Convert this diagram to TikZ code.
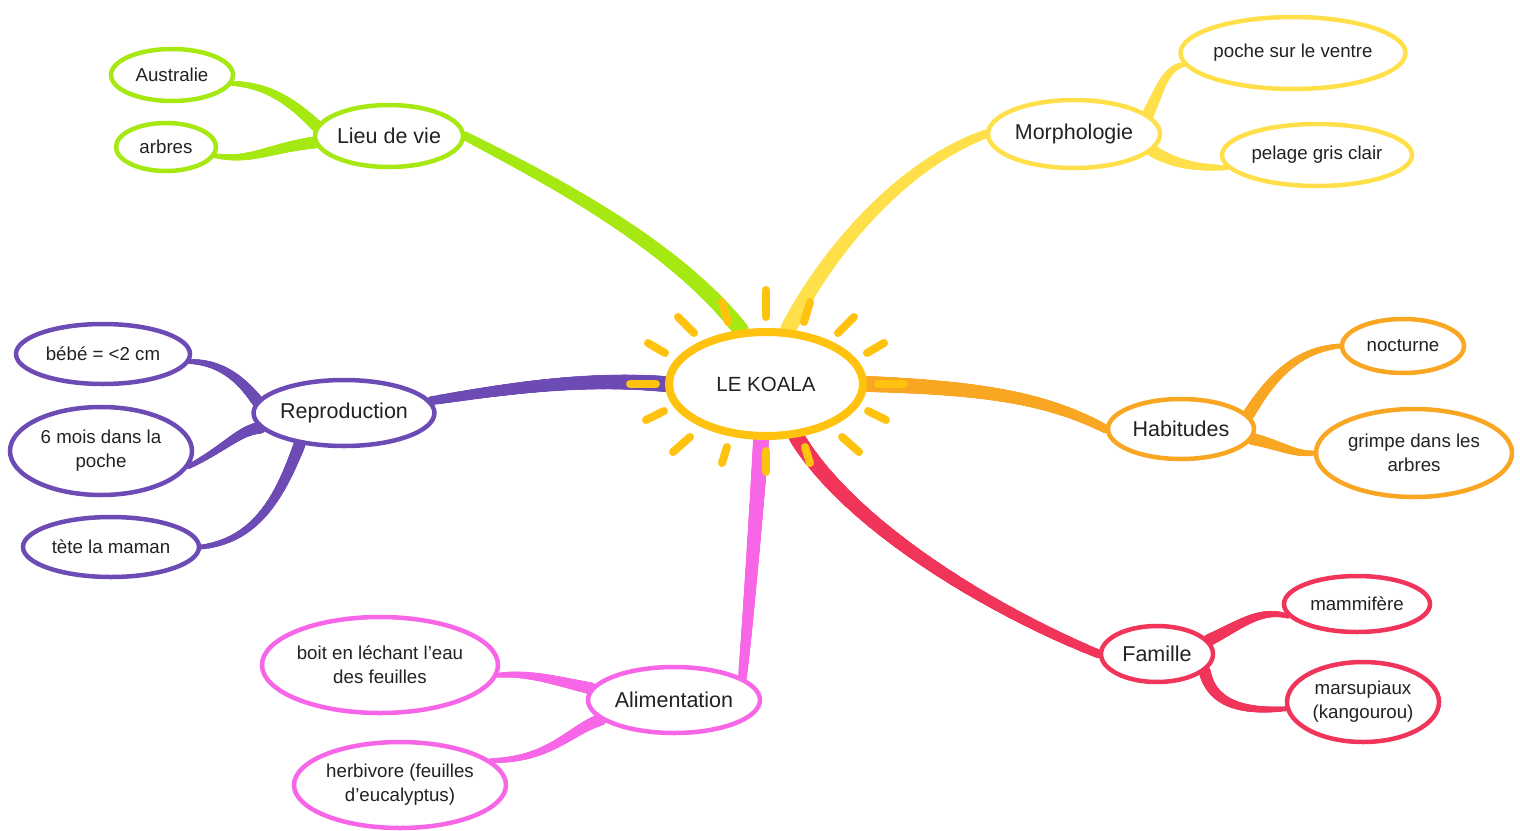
\documentclass[tikz,border=0pt]{standalone}
\usepackage{fontspec}
\setmainfont{Liberation Sans}
\usetikzlibrary{shapes.geometric,calc}
\definecolor{cgreen}{HTML}{A6E812}
\definecolor{cyellow}{HTML}{FFE04B}
\definecolor{corange}{HTML}{F9A623}
\definecolor{cred}{HTML}{F0345A}
\definecolor{cpink}{HTML}{F766E6}
\definecolor{cpurple}{HTML}{6D4BB5}
\definecolor{cgold}{HTML}{FFC20E}
\definecolor{ctext}{HTML}{222222}
\pgfdeclarelayer{bg}
\pgfsetlayers{bg,main}
\tikzset{
  bubble/.style={ellipse, draw, fill=white, inner sep=0pt, align=center, text=ctext},
  topic/.style={bubble, line width=4.5pt, font=\fontsize{21.5}{25}\selectfont},
  leaf/.style={bubble, line width=4.5pt, font=\fontsize{18.7}{24}\selectfont},
  hub/.style={bubble, draw=cgold, line width=8pt, font=\fontsize{20.5}{24}\selectfont},
  ray/.style={draw=cgold, line width=8pt, line cap=round}
}
% tapered cubic curve: #1 colour, #2 thick end, #3 #4 controls, #5 thin end, #6 thick width, #7 thin width
\newcommand\taperedbranch[7]{%
  \path (#2) coordinate (tb0) (#3) coordinate (tb1) (#4) coordinate (tb2) (#5) coordinate (tb3);
  \foreach \k in {0,...,23} {
    \pgfmathsetmacro\s{1-\k/24}
    \pgfmathsetmacro\w{#6-(#6-#7)*\s}
    \coordinate (tbA) at ($(tb0)!\s!(tb1)$);
    \coordinate (tbB) at ($(tb1)!\s!(tb2)$);
    \coordinate (tbC) at ($(tb2)!\s!(tb3)$);
    \coordinate (tbD) at ($(tbA)!\s!(tbB)$);
    \coordinate (tbE) at ($(tbB)!\s!(tbC)$);
    \coordinate (tbF) at ($(tbD)!\s!(tbE)$);
    \draw[draw=#1, line width=\w pt, line cap=round] (tb0) .. controls (tbA) and (tbD) .. (tbF);
  }
}
\begin{document}
\begin{tikzpicture}[x=1pt,y=-1pt]
\useasboundingbox (0,0) rectangle (1520,830);
% center
\node[hub, minimum width=194pt, minimum height=104pt] (koala) at (766,384) {LE KOALA};
% topics
\node[topic, draw=cgreen, minimum width=148pt, minimum height=62pt] (lieu) at (389,136) {Lieu de vie};
\node[topic, draw=cyellow, minimum width=172pt, minimum height=68pt] (morph) at (1074,134) {Morphologie};
\node[topic, draw=corange, minimum width=146pt, minimum height=60pt] (habit) at (1181,429) {Habitudes};
\node[topic, draw=cred, minimum width=112pt, minimum height=56pt] (famille) at (1157,654) {Famille};
\node[topic, draw=cpink, minimum width=172pt, minimum height=66pt] (alim) at (674,700) {Alimentation};
\node[topic, draw=cpurple, minimum width=180pt, minimum height=66pt] (repro) at (344,413) {Reproduction};
% leaves
\node[leaf, draw=cgreen, minimum width=122pt, minimum height=52pt] (austr) at (172,75) {Australie};
\node[leaf, draw=cgreen, minimum width=100pt, minimum height=48pt] (arbres) at (166,147) {arbres};
\node[leaf, draw=cyellow, minimum width=224pt, minimum height=72pt] (poche) at (1293,53) {poche sur le ventre};
\node[leaf, draw=cyellow, minimum width=190pt, minimum height=62pt] (pelage) at (1317,155) {pelage gris clair};
\node[leaf, draw=corange, minimum width=122pt, minimum height=54pt] (noct) at (1403,346) {nocturne};
\node[leaf, draw=corange, minimum width=196pt, minimum height=88pt] (grimpe) at (1414,453) {grimpe dans les\\arbres};
\node[leaf, draw=cred, minimum width=146pt, minimum height=56pt] (mammi) at (1357,604) {mammifère};
\node[leaf, draw=cred, minimum width=152pt, minimum height=80pt] (marsu) at (1363,702) {marsupiaux\\(kangourou)};
\node[leaf, draw=cpink, minimum width=236pt, minimum height=96pt] (boit) at (380,665) {boit en léchant l’eau\\des feuilles};
\node[leaf, draw=cpink, minimum width=212pt, minimum height=86pt] (herbi) at (400,785) {herbivore (feuilles\\d’eucalyptus)};
\node[leaf, draw=cpurple, minimum width=174pt, minimum height=60pt] (bebe) at (103,354) {bébé = <2 cm};
\node[leaf, draw=cpurple, minimum width=182pt, minimum height=88pt] (sixm) at (101,451) {6 mois dans la\\poche};
\node[leaf, draw=cpurple, minimum width=176pt, minimum height=60pt] (tete) at (111,547) {tète la maman};

\begin{pgfonlayer}{bg}
% main branches
\taperedbranch{cgreen}{koala.115}{670,240}{540,175}{lieu.east}{16}{9}
\taperedbranch{cyellow}{koala.68}{825,255}{900,165}{morph.west}{16}{9}
\taperedbranch{corange}{koala.east}{990,388}{1050,400}{habit.west}{16}{9}
\taperedbranch{cred}{koala.-60}{850,525}{990,610}{famille.west}{16}{9}
\taperedbranch{cpink}{koala.-95}{755,530}{748,620}{alim.18}{16}{9}
\taperedbranch{cpurple}{koala.west}{580,377}{500,390}{repro.8}{16}{9}
% sub branches
\taperedbranch{cgreen}{lieu.172}{295,105}{270,85}{austr.-8}{12}{5}
\taperedbranch{cgreen}{lieu.185}{270,148}{250,162}{arbres.-10}{12}{5}
\taperedbranch{cyellow}{morph.15}{1160,90}{1165,68}{poche.186}{12}{5}
\taperedbranch{cyellow}{morph.-12}{1175,165}{1200,168}{pelage.188}{12}{5}
\taperedbranch{corange}{habit.12}{1270,380}{1295,350}{noct.west}{12}{5}
\taperedbranch{corange}{habit.-8}{1280,445}{1295,455}{grimpe.west}{12}{5}
\taperedbranch{cred}{famille.15}{1240,625}{1260,608}{mammi.190}{12}{5}
\taperedbranch{cred}{famille.-20}{1212,705}{1245,712}{marsu.185}{12}{5}
\taperedbranch{cpink}{alim.172}{560,682}{530,672}{boit.-5}{12}{5}
\taperedbranch{cpink}{alim.195}{570,730}{550,760}{herbi.15}{12}{5}
\taperedbranch{cpurple}{repro.172}{245,385}{225,362}{bebe.-5}{12}{5}
\taperedbranch{cpurple}{repro.190}{240,430}{225,448}{sixm.-10}{12}{5}
\taperedbranch{cpurple}{repro.215}{282,490}{260,540}{tete.east}{12}{5}
\end{pgfonlayer}

% sun rays
\draw[ray] (766,290) -- (766,317);
\draw[ray] (766,451) -- (766,472);
\draw[ray] (630,384) -- (656,384);
\draw[ray] (878,384) -- (904,384);
\draw[ray] (722,302) -- (728,322);
\draw[ray] (810,302) -- (804,322);
\draw[ray] (722,463) -- (727,447);
\draw[ray] (810,463) -- (805,447);
\draw[ray] (678,317) -- (694,333);
\draw[ray] (854,317) -- (838,333);
\draw[ray] (673,452) -- (690,437);
\draw[ray] (859,452) -- (842,437);
\draw[ray] (648,343) -- (665,353);
\draw[ray] (884,343) -- (867,353);
\draw[ray] (646,420) -- (664,411);
\draw[ray] (886,420) -- (868,411);
\end{tikzpicture}
\end{document}
